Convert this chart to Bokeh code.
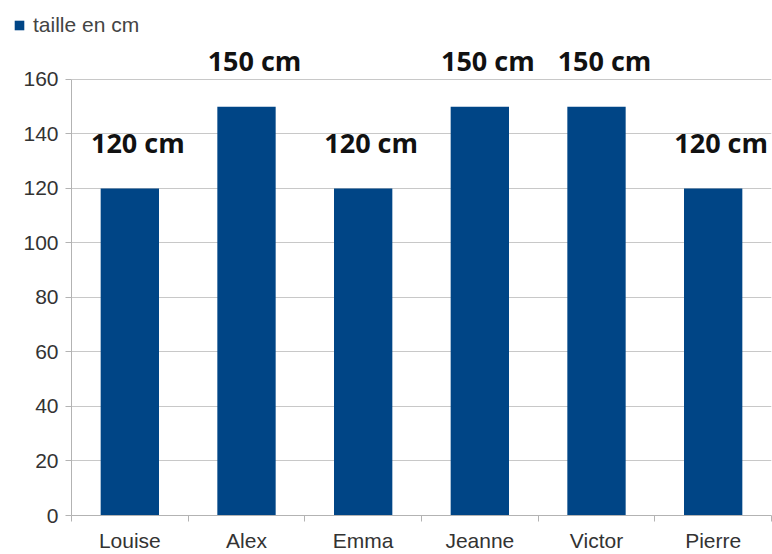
from bokeh.plotting import figure
from bokeh.layouts import column, row
from bokeh.models import (ColumnDataSource, Range1d, FixedTicker, LabelSet, Legend, LegendItem)
from bokeh.core.properties import value
from bokeh.embed import file_html
from bokeh.resources import INLINE

names = ["Louise", "Alex", "Emma", "Jeanne", "Victor", "Pierre"]
heights = [120, 150, 120, 150, 150, 120]
series_name = "taille en cm"
y_ticks = [0, 20, 40, 60, 80, 100, 120, 140, 160]

BAR_COLOR = "#004586"
FONT = "Liberation Sans Narrow, Arial Narrow, Liberation Sans, sans-serif"

xs = [i + 0.5 for i in range(len(names))]
src = ColumnDataSource(dict(x=xs, y=heights, name=names,
                            label=[f"{h} cm" for h in heights]))

# ---- legend strip on top (its bars are kept far outside its view) ----
leg = figure(width=772, height=40, output_backend="svg", toolbar_location=None,
             x_axis_type=None, y_axis_type=None,
             x_range=Range1d(1000, 1006), y_range=Range1d(1000, 1010),
             min_border_left=0, min_border_right=0, min_border_top=0, min_border_bottom=0)
leg.outline_line_color = None
leg.xgrid.grid_line_color = None
leg.ygrid.grid_line_color = None
leg_r = leg.vbar(x="x", top="y", width=0.5, source=src, fill_color=BAR_COLOR,
                 line_color=None)
legend = Legend(items=[LegendItem(label=series_name, renderers=[leg_r])],
                location=(13, 3), orientation="horizontal",
                glyph_width=12, glyph_height=12, label_standoff=8,
                padding=0, margin=0, border_line_color=None,
                background_fill_alpha=0,
                label_text_font=FONT,
                label_text_font_size="21px", label_text_color="#444444")
leg.add_layout(legend)

# ---- main chart ----
p = figure(width=772, height=514, output_backend="svg", toolbar_location=None,
           x_range=Range1d(0, len(names)), y_range=Range1d(0, 174.3),
           min_border_left=71, min_border_right=1, min_border_top=0,
           min_border_bottom=38)
p.outline_line_color = None
p.background_fill_color = "white"

r = p.vbar(x="x", top="y", width=0.5, source=src, fill_color=BAR_COLOR,
           line_color=None)

p.xaxis.ticker = FixedTicker(ticks=xs, minor_ticks=list(range(len(names) + 1)))
p.xaxis.major_label_overrides = {x: n for x, n in zip(xs, names)}
p.xaxis.major_tick_line_color = None
p.xaxis.major_tick_out = 6
p.xaxis.minor_tick_in = 0
p.xaxis.minor_tick_out = 6
p.xaxis.minor_tick_line_color = "#b3b3b3"
p.xaxis.axis_line_color = "#b3b3b3"
p.xaxis.major_label_standoff = 7
p.xaxis.major_label_text_font = FONT
p.xaxis.major_label_text_font_size = "21px"
p.xaxis.major_label_text_color = "#333333"
p.xgrid.grid_line_color = None

p.yaxis.ticker = FixedTicker(ticks=y_ticks)
p.yaxis.bounds = (0, 160)
p.yaxis.minor_tick_line_color = None
p.yaxis.major_tick_in = 0
p.yaxis.major_tick_out = 6
p.yaxis.major_tick_line_color = "#b3b3b3"
p.yaxis.axis_line_color = "#b3b3b3"
p.yaxis.major_label_standoff = 7
p.yaxis.major_label_text_font = FONT
p.yaxis.major_label_text_font_size = "21px"
p.yaxis.major_label_text_color = "#333333"
p.ygrid.grid_line_color = "#c8c8c8"

labels = LabelSet(x="x", y="y", text="label", source=src, x_offset=8, y_offset=46,
                  text_align="center", text_baseline="middle",
                  text_font=value("Open Sans"), text_font_style="bold",
                  text_font_size="27px", text_color="#111111")
p.add_layout(labels)

layout = column(row(leg), p, spacing=0)
open("out.html", "w").write(file_html(layout, INLINE))
